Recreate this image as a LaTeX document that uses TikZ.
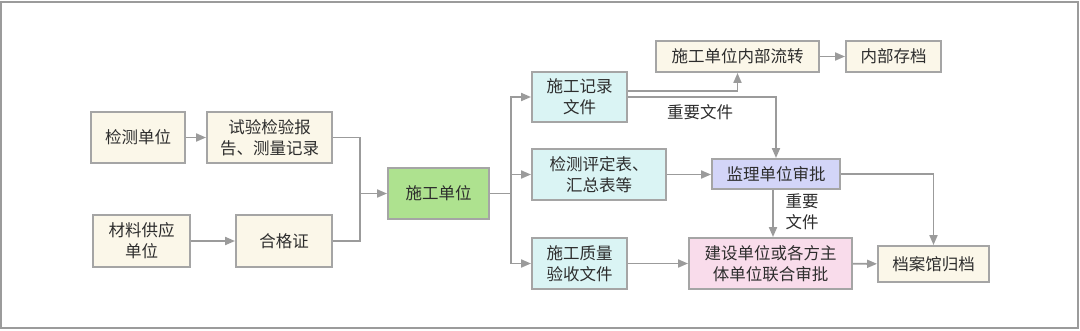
\documentclass[tikz,border=0pt]{standalone}
\usepackage{fontspec}
\setmainfont{Noto Sans CJK SC}
\usetikzlibrary{arrows.meta,calc}
\definecolor{fbeige}{RGB}{251,247,233}
\definecolor{fcyan}{RGB}{218,244,244}
\definecolor{fgreen}{RGB}{174,226,143}
\definecolor{flav}{RGB}{211,213,248}
\definecolor{fpink}{RGB}{249,220,235}
\definecolor{edgegray}{RGB}{165,165,165}
\definecolor{linegray}{RGB}{155,155,155}
\definecolor{txtgray}{RGB}{45,45,45}

\begin{document}
\begin{tikzpicture}[x=1pt,y=-1pt,font=\fontsize{16.5}{21}\selectfont,text=txtgray,
    box/.style={draw=edgegray,line width=1.9pt,inner sep=0pt,align=center},
    conn/.style={draw=linegray,line width=1.9pt},
    arr/.style={conn,-{Triangle[length=10pt,width=8pt]}},
    tag/.style={fill=white,inner sep=0pt,align=center}]
        \useasboundingbox (0,0) rectangle (1080,330);
        \draw[draw=linegray,line width=1.8pt] (1,2) rectangle (1078,328);
        \node[box,fill=fbeige,minimum width=94pt,minimum height=51pt] (jcdw) at (138,137.5) {检测单位};
        \node[box,fill=fbeige,minimum width=125pt,minimum height=51pt] (sybg) at (269.5,137.5) {试验检验报\\告、测量记录};
        \node[box,fill=fbeige,minimum width=97pt,minimum height=52pt] (clgy) at (141.5,241) {材料供应\\单位};
        \node[box,fill=fbeige,minimum width=96pt,minimum height=52pt] (hgz) at (284,241) {合格证};
        \node[box,fill=fgreen,minimum width=101pt,minimum height=51pt] (sgdw) at (438.5,193.5) {施工单位};
        \node[box,fill=fcyan,minimum width=95pt,minimum height=50pt] (sgjl) at (579.5,97) {施工记录\\文件};
        \node[box,fill=fcyan,minimum width=134pt,minimum height=51pt] (jcpd) at (599,174.5) {检测评定表、\\汇总表等};
        \node[box,fill=fcyan,minimum width=95pt,minimum height=51pt] (zlys) at (579.5,263.5) {施工质量\\验收文件};
        \node[box,fill=fbeige,minimum width=163pt,minimum height=31pt] (nblz) at (737.5,56.5) {施工单位内部流转};
        \node[box,fill=fbeige,minimum width=95pt,minimum height=31pt] (nbcd) at (893.5,56.5) {内部存档};
        \node[box,fill=flav,minimum width=128pt,minimum height=30pt] (jlsp) at (776,174) {监理单位审批};
        \node[box,fill=fpink,minimum width=163pt,minimum height=51pt] (jssp) at (770.5,263.5) {建设单位或各方主\\体单位联合审批};
        \node[box,fill=fbeige,minimum width=111pt,minimum height=36pt] (dagd) at (933.5,264) {档案馆归档};
        \node[tag,minimum width=97pt,minimum height=24pt] (zywj) at (700,112) {重要文件};
        \node[tag,minimum width=52pt,minimum height=40pt] (zywj2) at (802,212) {重要\\文件};
        \coordinate (jl) at (360,193.5);
        \coordinate (jr) at (511,193.5);
        \draw[arr] (jcdw) -- (sybg);
        \draw[arr] (clgy) -- (hgz);
        \draw[conn] (sybg.east) -| (jl);
        \draw[conn] (hgz.east) -| (jl);
        \draw[arr] (jl) -- (sgdw.west);
        \draw[conn] (sgdw.east) -- (jr);
        \draw[arr] (jr) |- (sgjl.west);
        \draw[arr] (jr) |- (jcpd.west);
        \draw[arr] (jr) |- (zlys.west);
        \draw[arr] ([yshift=6pt]sgjl.east) -| (nblz.south);
        \draw[arr] (nblz) -- (nbcd);
        \draw[arr] (sgjl.east) -| (jlsp.north);
        \draw[arr] (jcpd.east) -- (jcpd.east -| jlsp.west);
        \draw[arr] (jlsp.east) -| (dagd.north);
        \draw[arr] ([xshift=-3pt]jlsp.south) -- ([xshift=-3pt]jlsp.south |- jssp.north);
        \draw[arr] (zlys) -- (jssp);
        \draw[arr] (jssp) -- (dagd);
      \end{tikzpicture}
\end{document}
